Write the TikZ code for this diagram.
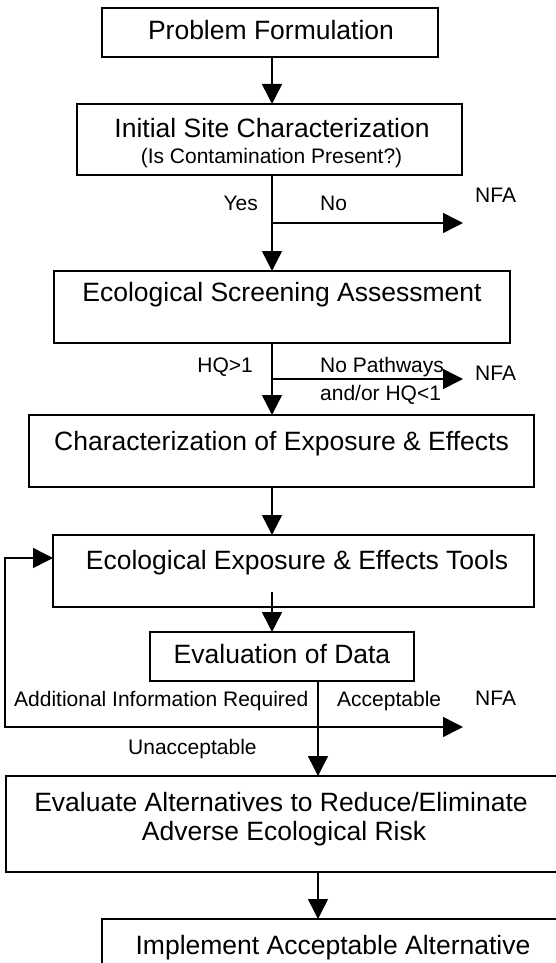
\documentclass[tikz,border=0pt]{standalone}
\usepackage{fontspec}
\setmainfont{Liberation Sans}
\usetikzlibrary{arrows.meta}

\begin{document}
\begin{tikzpicture}[x=1pt, y=-1pt,
  box/.style={draw, line width=1.5pt, inner sep=0pt, outer sep=0pt},
  arr/.style={line width=1.5pt, -{Triangle[length=20pt, width=20pt]}},
  link/.style={line width=1.5pt},
  big/.style={inner sep=0pt, font=\fontsize{26.5}{30}\selectfont},
  small/.style={inner sep=0pt, font=\fontsize{21}{24}\selectfont}]

\useasboundingbox (0,0) rectangle (555,963);

% boxes
\node[box, minimum width=336pt, minimum height=49pt] (B1) at (270,32.5) {};
\node[box, minimum width=385pt, minimum height=71pt] (B2) at (269.5,139.5) {};
\node[box, minimum width=456pt, minimum height=72pt] (B3) at (282,307) {};
\node[box, minimum width=505pt, minimum height=72pt] (B4) at (281.5,451) {};
\node[box, minimum width=481pt, minimum height=72pt] (B5) at (293.5,571) {};
\node[box, minimum width=264pt, minimum height=49pt] (B6) at (282,656.5) {};
\node[box, minimum width=552pt, minimum height=96pt] (B7) at (282,824) {};
\node[box, minimum width=468pt, minimum height=76pt] (B8) at (336,957) {};

% box texts
\node[big, anchor=base] (t1) at (271,40) {Problem Formulation};
\node[big, anchor=base] (t2) at (272,137) {Initial Site Characterization};
\node[small, anchor=base] (t2b) at (271.5,163) {(Is Contamination Present?)};
\node[big, anchor=base] (t3) at (282,301) {Ecological Screening Assessment};
\node[big, anchor=base] (t4) at (281.5,450) {Characterization of Exposure \& Effects};
\node[big, anchor=base] (t5) at (297,569) {Ecological Exposure \& Effects Tools};
\node[big, anchor=base] (t6) at (282,663) {Evaluation of Data};
\node[big, anchor=base] (t7a) at (281,811) {Evaluate Alternatives to Reduce/Eliminate};
\node[big, anchor=base] (t7b) at (284,840) {Adverse Ecological Risk};
\node[big, anchor=base] (t8) at (333,954) {Implement Acceptable Alternative};

% branch labels
\node[small, anchor=base east] (yes) at (258,210) {Yes};
\node[small, anchor=base west] (no) at (320,210) {No};
\node[small, anchor=base west] (nfa1) at (475,202) {NFA};
\node[small, anchor=base east] (hq) at (253,372) {HQ>1};
\node[small, anchor=base west] (nopath) at (320,372) {No Pathways};
\node[small, anchor=base west] (andor) at (320,400) {and/or HQ<1};
\node[small, anchor=base west] (nfa2) at (475,380) {NFA};
\node[small, anchor=base west] (addinfo) at (14,706) {Additional Information Required};
\node[small, anchor=base west] (acc) at (337,706) {Acceptable};
\node[small, anchor=base west] (nfa3) at (475,705) {NFA};
\node[small, anchor=base west] (unacc) at (128,754) {Unacceptable};

% spine and junction coordinates
\coordinate (sp) at (272,0);
\coordinate (sq) at (318,0);
\coordinate (j1) at (272,223);
\coordinate (e1) at (463,223);
\coordinate (j2) at (272,379);
\coordinate (e2) at (463,379);
\coordinate (s5) at (272,592);
\coordinate (j3) at (318,727);
\coordinate (e3) at (463,727);
\coordinate (lp) at (5,727);
\coordinate (fby) at (0,558);

% connectors
\draw[arr] (B1.south -| sp) -- (B2.north -| sp);
\draw[arr] (B2.south -| sp) -- (B3.north -| sp);
\draw[arr] (j1) -- (e1);
\draw[arr] (B3.south -| sp) -- (B4.north -| sp);
\draw[arr] (j2) -- (e2);
\draw[arr] (B4.south -| sp) -- (B5.north -| sp);
\draw[arr] (s5) -- (B6.north -| sp);
\draw[arr] (B6.south -| sq) -- (B7.north -| sq);
\draw[arr] (j3) -- (e3);
\draw[arr] (j3) -- (lp) |- (B5.west |- fby);
\draw[arr] (B7.south -| sq) -- (B8.north -| sq);

\end{tikzpicture}
\end{document}
